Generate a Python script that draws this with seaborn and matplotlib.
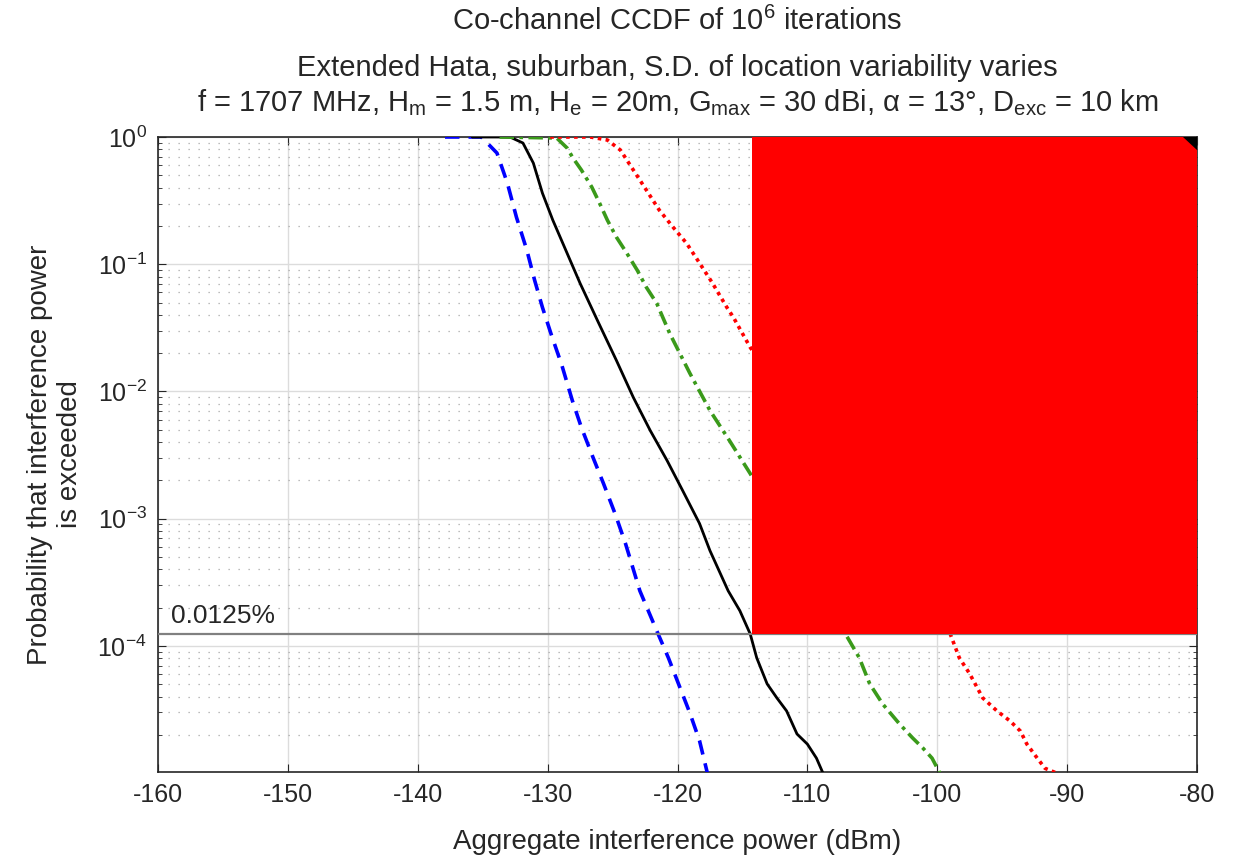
import numpy as np
import pandas as pd
import matplotlib
matplotlib.use("Agg")
import matplotlib.pyplot as plt
import seaborn as sns
from matplotlib.patches import Rectangle, Polygon

# curves (dBm, probability)
blue_x = [-137.9, -135.1, -133.9, -133.1, -132.4, -131.6, -131.0, -130.4, -129.7, -128.9,
          -128.1, -127.4, -126.5, -125.7, -124.8, -124.0, -122.9, -121.7, -120.7, -119.8,
          -119.05, -118.3, -117.7]
blue_y = [1, 1, 0.748, 0.434, 0.234, 0.129, 0.0748, 0.0458, 0.0276, 0.016,
          0.0085, 0.00521, 0.00302, 0.00189, 0.00109, 6.35e-4, 2.71e-4, 1.39e-4, 8.05e-5, 4.67e-5,
          2.97e-5, 1.79e-5, 1.0e-5]

black_x = [-135.8, -132.9, -131.9, -131.1, -130.4, -129.6, -128.5, -127.5, -126.1,
           -124.7, -123.4, -122.1, -120.8, -119.6, -118.3, -117.5, -116.1, -115.2, -114.4,
           -113.9, -113.1, -112.35, -111.6, -110.8, -110.0, -109.3, -108.8]
black_y = [1, 1, 0.897, 0.624, 0.362, 0.222, 0.122, 0.0708, 0.035,
           0.0175, 0.00897, 0.00493, 0.00286, 0.00166, 9.14e-4, 5.6e-4, 2.71e-4, 1.89e-4, 1.24e-4,
           8.05e-5, 5.03e-5, 3.9e-5, 3.08e-5, 2.03e-5, 1.69e-5, 1.31e-5, 1.0e-5]

green_x = [-133.7, -129.3, -128.5, -128.05, -127.4, -126.6, -126.0, -125.4, -124.7, -123.9,
           -123.1, -122.4, -121.6, -120.6, -119.05, -117.5, -116.0, -114.4, -110.6, -106.9,
           -106.0, -105.2, -104.2, -102.9, -101.9, -101.1, -100.4, -99.8]
green_y = [1, 0.982, 0.819, 0.684, 0.55, 0.404, 0.302, 0.222, 0.163, 0.122,
           0.0897, 0.0659, 0.0493, 0.0286, 0.0139, 0.00708, 0.00411, 0.00226, 4.67e-4, 1.16e-4,
           8.05e-5, 5.03e-5, 3.49e-5, 2.43e-5, 1.89e-5, 1.57e-5, 1.31e-5, 1.0e-5]

red_x = [-129.8, -126.7, -125.4, -124.4, -123.4, -122.4, -121.4, -120.35, -119.3, -118.3,
         -117.3, -116.2, -115.7, -114.4, -106.7, -99.0, -98.3, -97.5, -96.5, -95.4,
         -94.4, -93.6, -93.1, -92.3, -91.7, -90.8]
red_y = [1, 1, 0.947, 0.79, 0.55, 0.383, 0.266, 0.196, 0.146, 0.102,
         0.0708, 0.0458, 0.0383, 0.0222, 0.00166, 1.24e-4, 8.05e-5, 6.03e-5, 3.9e-5, 3.08e-5,
         2.57e-5, 2.14e-5, 1.69e-5, 1.31e-5, 1.09e-5, 1.0e-5]

threshold = 1.25e-4
threshold_label = "0.0125%"
mask_x0 = -114.3

title_lines = [
    'Co-channel CCDF of 10$^6$ iterations',
    'Extended Hata, suburban, S.D. of location variability varies',
    'f = 1707 MHz, H$_m$ = 1.5 m, H$_e$ = 20m, G$_{max}$ = 30 dBi, $\\alpha$ = 13°, D$_{exc}$ = 10 km',
]

sns.set_style("ticks")
plt.rcParams['font.family'] = ['Liberation Sans', 'DejaVu Sans']
plt.rcParams['mathtext.fontset'] = 'custom'
plt.rcParams['mathtext.rm'] = 'Liberation Sans'
plt.rcParams['mathtext.it'] = 'Liberation Sans'
plt.rcParams['axes.unicode_minus'] = False

W, H = 1243, 861
fig = plt.figure(figsize=(W / 100, H / 100), dpi=100, facecolor='white')
ax = fig.add_axes([158 / W, 1 - 772 / H, (1197 - 158) / W, (772 - 137) / H])

series = [
    (blue_x, blue_y, '#0000FF', (0, (4, 2.5))),
    (black_x, black_y, 'black', '-'),
    (green_x, green_y, '#3A9A1A', (0, (4, 1.5, 1, 1.5))),
    (red_x, red_y, '#FF0000', (0, (1, 1.2))),
]
for xs, ys, col, ls in series:
    d = pd.DataFrame({'x': xs, 'y': ys})
    sns.lineplot(data=d, x='x', y='y', ax=ax, color=col, linestyle=ls,
                 linewidth=2.6 if col != 'black' else 2.0, estimator=None, sort=False, zorder=3)

ax.set_yscale('log')
ax.set_xlim(-160, -80)
ax.set_ylim(1.02e-5, 1)
ax.set_xticks(np.arange(-160, -79, 10))
ax.set_yticks([1e-4, 1e-3, 1e-2, 1e-1, 1e0])

ax.grid(True, which='major', color='#dcdcdc', linewidth=1.0, zorder=0)
ax.grid(True, which='minor', axis='y', color='#a8a8a8', linestyle=(0, (1, 7)), linewidth=0.9, zorder=0)
ax.set_axisbelow(True)

ax.axhline(threshold, color='#808080', linewidth=1.6, zorder=4)
ax.text(-159.0, threshold * 1.1, threshold_label, fontsize=19, color='#262626', va='bottom', ha='left', zorder=5)

ax.add_patch(Rectangle((mask_x0, threshold), -80 - mask_x0, 1 - threshold,
                       facecolor='#FF0000', edgecolor='none', zorder=6))
ax.add_patch(Polygon([(-81.1, 1.0), (-80.0, 1.0), (-80.0, 0.79)], closed=True,
                     facecolor='black', edgecolor='none', zorder=7))

ax.tick_params(which='both', direction='in', top=True, right=True, labelsize=18, colors='#262626')
ax.tick_params(which='major', length=6, pad=8)
ax.tick_params(which='minor', length=3)
for s in ax.spines.values():
    s.set_color('#262626')
    s.set_linewidth(1.2)
    s.set_visible(True)

ax.set_xlabel('Aggregate interference power (dBm)', fontsize=20, color='#262626', labelpad=16)
ax.set_ylabel('Probability that interference power\nis exceeded', fontsize=20, color='#262626', labelpad=10)

xc = (158 + 1197) / 2 / W
for line, base in zip(title_lines, [30, 76, 111]):
    fig.text(xc, 1 - base / H, line, fontsize=21, color='#262626', ha='center', va='baseline')

fig.savefig('out.png', dpi=100, facecolor='white')
